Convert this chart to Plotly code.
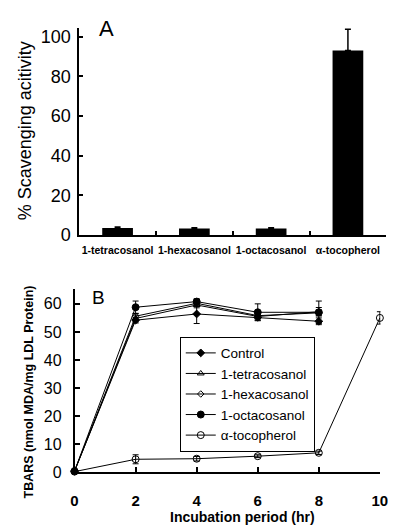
import plotly.graph_objects as go

W, H = 396, 525
FONT = "Liberation Sans, Arial, sans-serif"

# ---- Panel A data ----
compounds = ["1-tetracosanol", "1-hexacosanol", "1-octacosanol", "α-tocopherol"]
scavenging = [3.6, 3.3, 3.3, 93.1]
scavenging_err = [0.5, 0.4, 0.4, 10.7]

# ---- Panel B data ----
time_h = [0, 2, 4, 6, 8]
time_toco = [0, 2, 4, 6, 8, 10]
control = [0.5, 54.2, 56.4, 55.2, 53.8]
control_err = [0.3, 1.0, 3.4, 1.0, 1.2]
tetracosanol = [0.5, 54.8, 59.6, 55.5, 57.2]
tetracosanol_err = [0.3, 1.2, 1.0, 1.2, 1.5]
hexacosanol = [0.5, 55.6, 60.2, 55.8, 56.8]
hexacosanol_err = [0.3, 1.0, 1.0, 1.0, 1.0]
octacosanol = [0.5, 58.8, 60.8, 57.0, 57.0]
octacosanol_err = [0.3, 2.2, 1.0, 3.0, 4.0]
tocopherol = [0.3, 4.7, 4.9, 5.8, 7.0, 55.0]
tocopherol_err = [0.2, 1.6, 0.8, 0.5, 0.6, 2.2]

yA_ticks = [0, 20, 40, 60, 80, 100]
yB_ticks = [0, 10, 20, 30, 40, 50, 60]
xB_ticks = [0, 2, 4, 6, 8, 10]


def px(x):
    return x / W


def py(y):
    return 1 - y / H


fig = go.Figure()

fig.add_trace(go.Bar(
    x=compounds, y=scavenging, xaxis="x", yaxis="y",
    marker=dict(color="black", line=dict(color="black", width=0)),
    error_y=dict(type="data", array=scavenging_err, symmetric=False,
                 arrayminus=[0] * len(scavenging), color="black",
                 thickness=1.5, width=3),
    showlegend=False,
))

series = [
    ("Control", time_h, control, control_err, "diamond", 6),
    ("1-tetracosanol", time_h, tetracosanol, tetracosanol_err, "triangle-up-open", 6),
    ("1-hexacosanol", time_h, hexacosanol, hexacosanol_err, "diamond-open", 5),
    ("1-octacosanol", time_h, octacosanol, octacosanol_err, "circle", 7),
    ("α-tocopherol", time_toco, tocopherol, tocopherol_err, "circle-open", 7),
]
for name, t, v, e, sym, sz in series:
    fig.add_trace(go.Scatter(
        x=t, y=v, name=name, xaxis="x2", yaxis="y2",
        mode="lines+markers",
        line=dict(color="black", width=1),
        marker=dict(symbol=sym, size=sz, color="black",
                    line=dict(color="black", width=1)),
        error_y=dict(type="data", array=e, color="black", thickness=1, width=3),
        cliponaxis=False,
    ))

axis_common = dict(showline=True, linecolor="black", linewidth=1.5,
                   showgrid=False, zeroline=False, ticks="inside",
                   tickcolor="black", tickwidth=1.5)


def ann(text, x, y, size, angle=0):
    return dict(text=text, x=px(x), y=py(y), xref="paper", yref="paper",
                xanchor="center", yanchor="middle", textangle=angle,
                showarrow=False, font=dict(size=size))


fig.update_layout(
    width=W, height=H,
    margin=dict(l=0, r=0, t=0, b=0),
    paper_bgcolor="white", plot_bgcolor="white",
    font=dict(family=FONT, color="black"),
    bargap=0.6,
    xaxis=dict(**axis_common, type="category", domain=[px(69.3), px(386)],
               anchor="y", tickson="boundaries", ticklen=4, tickangle=0,
               tickfont=dict(size=10.5, weight="bold"), ticklabelstandoff=5),
    yaxis=dict(**axis_common, domain=[py(231.5), py(20)], anchor="x",
               range=[0, 104.6], tickvals=yA_ticks, ticklen=4,
               tickfont=dict(size=18), ticklabelstandoff=3),
    xaxis2=dict(**axis_common, domain=[px(64.5), px(380)], anchor="y2",
                range=[0, 10.02], tickvals=xB_ticks, ticklen=6, tickangle=0,
                tickfont=dict(size=15, weight="bold"), ticklabelstandoff=14),
    yaxis2=dict(**axis_common, domain=[py(473.5), py(286.7)], anchor="x2",
                range=[0, 65.2], tickvals=yB_ticks, ticklen=6,
                tickfont=dict(size=16), ticklabelstandoff=8),
    legend=dict(x=px(173), y=py(335), xanchor="left", yanchor="top",
                bordercolor="black", borderwidth=1, bgcolor="white",
                font=dict(size=13.5, family=FONT), itemwidth=30,
                tracegroupgap=0),
    annotations=[
        ann("% Scavenging acitivity", 13, 125, 18, -90),
        ann("A", 97.5, 21, 22),
        ann("B", 89.7, 295, 19),
        ann("<b>TBARS (nmol MDA/mg LDL Protein)</b>", 18, 391.5, 12.5, -90),
        ann("<b>Incubation period (hr)</b>", 237.5, 518.5, 14),
    ],
)

fig.write_html("out.html")
